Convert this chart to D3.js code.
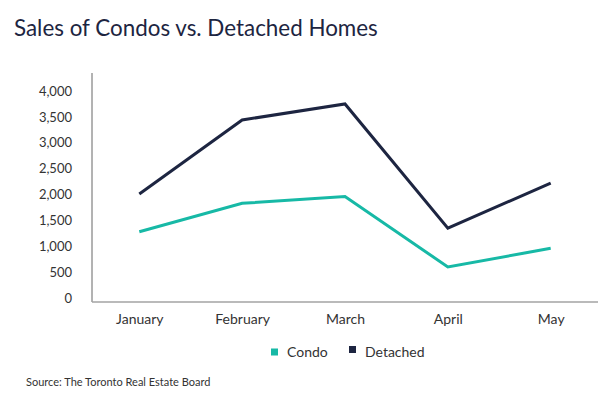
<!DOCTYPE html>
<html>
<head>
<meta charset="utf-8">
<script src="https://cdn.jsdelivr.net/npm/d3@7"></script>
<style>
  body { margin: 0; background: #fff; }
  svg { display: block; font-family: Lato, sans-serif; }
</style>
</head>
<body>
<svg id="chart" width="612" height="396"></svg>
<script>
const months = ["January", "February", "March", "April", "May"];
const condo = [1280, 1830, 1960, 600, 960];
const detached = [2010, 3440, 3750, 1350, 2220];
const yTicks = [0, 500, 1000, 1500, 2000, 2500, 3000, 3500, 4000];

const seriesNames = ["Condo", "Detached"];
const colors = {Condo: "#17b9a6", Detached: "#1d2541"};

const svg = d3.select("#chart");

const x = d3.scalePoint()
    .domain(months)
    .range([92, 598])
    .padding(0.46);

const y = d3.scaleLinear()
    .domain([0, 4000])
    .range([298, 91]);

// title
svg.append("text")
    .attr("x", 14)
    .attr("y", 36)
    .attr("font-size", 22.4)
    .attr("fill", "#1d2541")
    .text("Sales of Condos vs. Detached Homes");

// y axis
const yAxis = svg.append("g")
    .attr("transform", "translate(92,0)")
    .call(d3.axisLeft(y).tickValues(yTicks).tickSize(0).tickPadding(20)
        .tickFormat(d3.format(",")));
yAxis.select(".domain").remove();
yAxis.selectAll("text")
    .attr("font-family", "Lato, sans-serif")
    .attr("font-size", 13)
    .attr("fill", "#333");

svg.append("line")
    .attr("x1", 92).attr("x2", 92)
    .attr("y1", 73).attr("y2", 302)
    .attr("stroke", "#666")
    .attr("stroke-width", 1);

// x axis
const xAxis = svg.append("g")
    .attr("transform", "translate(0,302)")
    .call(d3.axisBottom(x).tickSize(0).tickPadding(12));
xAxis.select(".domain")
    .attr("d", "M92,0H598")
    .attr("stroke", "#a3a3a3")
    .attr("stroke-width", 1.6);
xAxis.selectAll("text")
    .attr("font-family", "Lato, sans-serif")
    .attr("font-size", 14)
    .attr("fill", "#333");

// lines
const line = d3.line()
    .x((d, i) => x(months[i]))
    .y(d => y(d));

[["Condo", condo], ["Detached", detached]].forEach(([name, values]) => {
    svg.append("path")
        .datum(values)
        .attr("fill", "none")
        .attr("stroke", colors[name])
        .attr("stroke-width", 3)
        .attr("stroke-linejoin", "miter")
        .attr("d", line);
});

// legend
const legendX = [271, 349];
const legend = svg.append("g")
    .selectAll("g")
    .data(seriesNames)
    .join("g")
    .attr("transform", (d, i) => "translate(" + legendX[i] + ",352)");
legend.append("rect")
    .attr("x", 0)
    .attr("y", (d, i) => i === 0 ? -3.5 : -6)
    .attr("width", 7)
    .attr("height", 7)
    .attr("fill", d => colors[d]);
legend.append("text")
    .attr("x", 16)
    .attr("dy", "0.35em")
    .attr("font-size", 14)
    .attr("fill", "#333")
    .text(d => d);

// source
svg.append("text")
    .attr("x", 26)
    .attr("y", 386)
    .attr("font-size", 11)
    .attr("fill", "#333")
    .text("Source: The Toronto Real Estate Board");
</script>
</body>
</html>
